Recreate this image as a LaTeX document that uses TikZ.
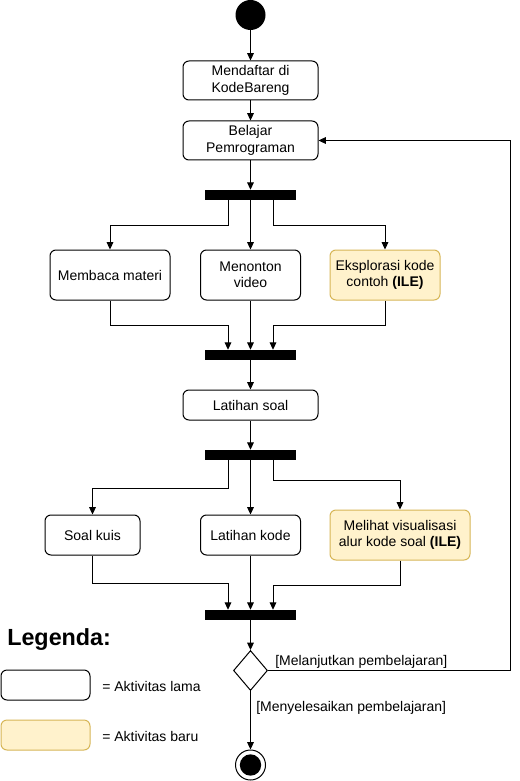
\documentclass[tikz,border=0pt]{standalone}
\usepackage{fontspec}
\setmainfont{Liberation Sans}
\usetikzlibrary{arrows.meta,shapes.geometric}
\definecolor{newfill}{HTML}{FFF2CC}
\definecolor{newdraw}{HTML}{D6B656}
\begin{document}
\begin{tikzpicture}[x=0.75pt,y=-0.75pt,
  every node/.style={font=\fontsize{10.5pt}{12.2pt}\selectfont},
  act/.style 2 args={draw=black,line width=0.75pt,rounded corners=4.5pt,fill=white,
    minimum width=#1*0.75pt,minimum height=#2*0.75pt,inner sep=1pt,align=center},
  newact/.style={draw=newdraw,fill=newfill},
  bar/.style={fill=black,minimum width=68.25pt,minimum height=7.5pt,inner sep=0pt},
  arr/.style={line width=0.75pt,-{Triangle[length=5.5pt,width=5pt]}},
  ln/.style={line width=0.75pt},
  lbl/.style={inner sep=0pt,anchor=west}]
\useasboundingbox (0,0) rectangle (519,781);
% start
\node[circle,fill=black,minimum size=22.5pt,inner sep=0pt] (start) at (250.5,15) {};
\node[act={135}{39}] (daftar) at (250.5,80.5) {Mendaftar di\\KodeBareng};
\node[act={135}{39}] (belajar) at (250.5,140.5) {Belajar\\Pemrograman};
\node[bar] (b1) at (250.5,195) {};
\node[act={120}{50}] (baca) at (110,275) {Membaca materi};
\node[act={100}{50}] (video) at (250.5,275) {Menonton\\video};
\node[act={110}{50},newact] (eks) at (385,275) {Eksplorasi kode\\contoh \textbf{(ILE)}};
\node[bar] (b2) at (250.5,355) {};
\node[act={135}{30}] (lsoal) at (250.5,405) {Latihan soal};
\node[bar] (b3) at (250.5,455) {};
\node[act={95}{40}] (kuis) at (92.5,535) {Soal kuis};
\node[act={100}{40}] (lkode) at (250.5,535) {Latihan kode};
\node[act={140}{50},newact] (vis) at (400,535) {Melihat visualisasi\\alur kode soal \textbf{(ILE)}};
\node[bar] (b4) at (250.5,615) {};
\node[diamond,draw=black,line width=0.75pt,fill=white,minimum width=25.5pt,minimum height=30pt,inner sep=0pt] (dec) at (250.5,670.5) {};
\node[circle,draw=black,line width=0.75pt,fill=white,minimum size=22.5pt,inner sep=0pt] (end) at (250.5,765) {};
\node[circle,fill=black,minimum size=16pt,inner sep=0pt] at (end.center) {};
% flows
\draw[arr] (start) -- (daftar);
\draw[arr] (daftar) -- (belajar);
\draw[arr] (belajar) -- (b1);
\draw[arr] ([xshift=-16.875pt]b1.south) -- ++(0,25) -| (baca.north);
\draw[arr] (b1.south) -- (video.north);
\draw[arr] ([xshift=16.875pt]b1.south) -- ++(0,25) -| (eks.north);
\draw[arr] (baca.south) |- ++(118,25) -- ([xshift=-16.875pt]b2.north);
\draw[arr] (video.south) -- (b2.north);
\draw[arr] (eks.south) |- ++(-112,25) -- ([xshift=16.875pt]b2.north);
\draw[arr] (b2) -- (lsoal);
\draw[arr] (lsoal) -- (b3);
\draw[arr] ([xshift=-16.875pt]b3.south) -- ++(0,28) -| (kuis.north);
\draw[arr] (b3.south) -- (lkode.north);
\draw[arr] ([xshift=16.875pt]b3.south) -- ++(0,20) -| (vis.north);
\draw[arr] (kuis.south) |- ++(135.5,28) -- ([xshift=-16.875pt]b4.north);
\draw[arr] (lkode.south) -- (b4.north);
\draw[arr] (vis.south) |- ++(-127,25) -- ([xshift=16.875pt]b4.north);
\draw[arr] (b4) -- (dec.north);
\draw[arr] (dec.east) -- (510,670.5) |- (belajar.east);
\draw[arr] (dec.south) -- (end.north);
\node[lbl] (l1) at (275,662) {[Melanjutkan pembelajaran]};
\node[lbl] (l2) at (256,708) {[Menyelesaikan pembelajaran]};
% legend
\node[lbl,font=\fontsize{17.5pt}{20pt}\selectfont\bfseries] (leg) at (7,640) {Legenda:};
\node[act={89}{30}] (lg1) at (45.5,685) {};
\node[act={89}{30},newact] (lg2) at (45.5,735) {};
\node[lbl] (t1) at (102,686) {= Aktivitas lama};
\node[lbl] (t2) at (102,736) {= Aktivitas baru};
\end{tikzpicture}
\end{document}
